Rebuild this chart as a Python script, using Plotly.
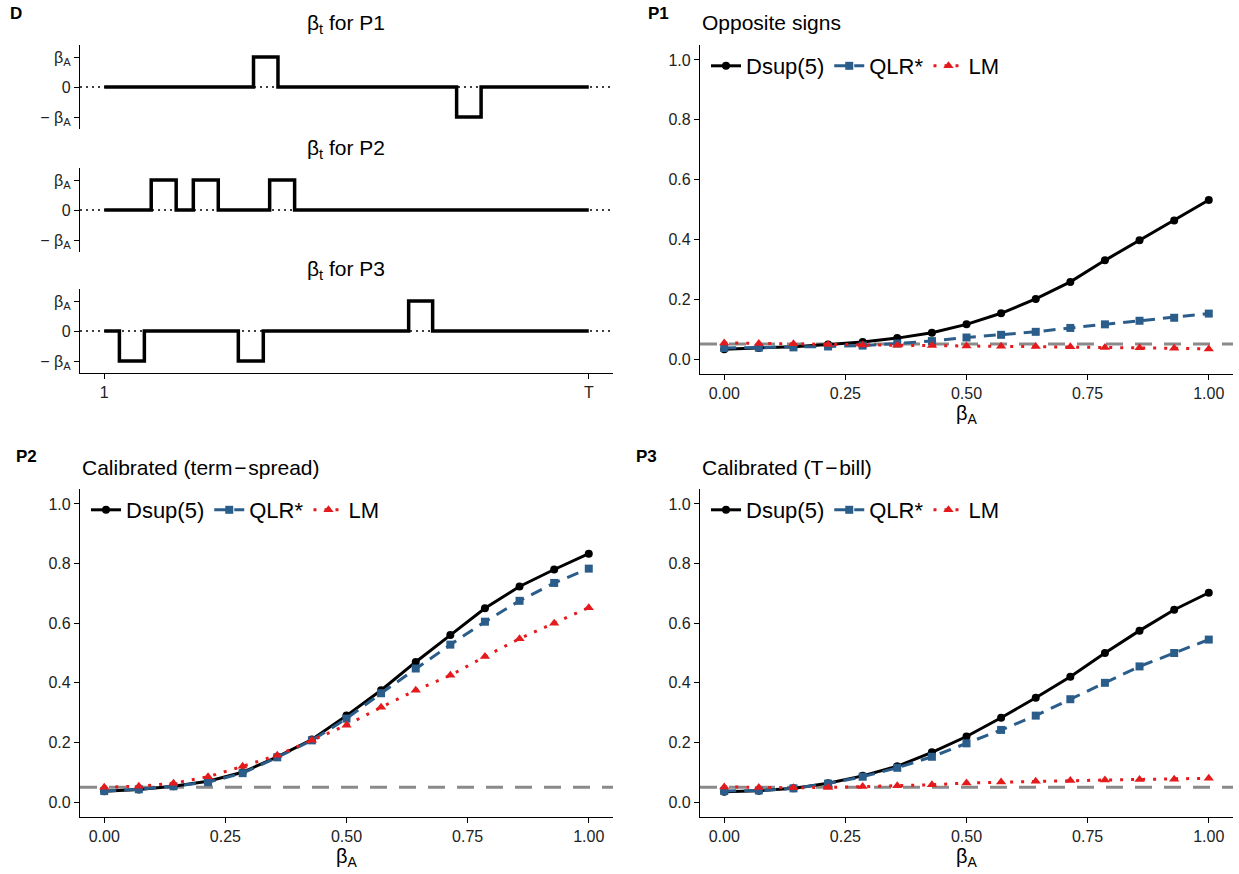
import plotly.graph_objects as go

W, H = 1239, 874
FONT = "Liberation Sans, Arial, sans-serif"

# ---------------- data ----------------
beta_grid = [0.0, 0.0714, 0.1429, 0.2143, 0.2857, 0.3571, 0.4286, 0.5,
             0.5714, 0.6429, 0.7143, 0.7857, 0.8571, 0.9286, 1.0]

p1_dsup = [0.033, 0.037, 0.041, 0.049, 0.057, 0.070, 0.088, 0.116, 0.153, 0.201, 0.258, 0.330, 0.397, 0.463, 0.532]
p1_qlr = [0.037, 0.038, 0.039, 0.042, 0.045, 0.052, 0.060, 0.072, 0.081, 0.091, 0.104, 0.116, 0.128, 0.138, 0.152]
p1_lm = [0.054, 0.052, 0.051, 0.049, 0.047, 0.046, 0.045, 0.044, 0.043, 0.042, 0.041, 0.039, 0.038, 0.036, 0.034]

p2_dsup = [0.036, 0.042, 0.053, 0.070, 0.100, 0.152, 0.210, 0.290, 0.375, 0.470, 0.560, 0.650, 0.723, 0.780, 0.833]
p2_qlr = [0.037, 0.043, 0.053, 0.067, 0.097, 0.150, 0.207, 0.280, 0.365, 0.448, 0.528, 0.605, 0.675, 0.735, 0.783]
p2_lm = [0.050, 0.053, 0.063, 0.085, 0.120, 0.157, 0.207, 0.258, 0.318, 0.375, 0.425, 0.488, 0.548, 0.600, 0.652]

p3_dsup = [0.035, 0.038, 0.046, 0.063, 0.088, 0.120, 0.167, 0.220, 0.283, 0.350, 0.420, 0.500, 0.575, 0.645, 0.702]
p3_qlr = [0.037, 0.039, 0.046, 0.062, 0.085, 0.115, 0.152, 0.197, 0.242, 0.290, 0.345, 0.400, 0.455, 0.500, 0.545]
p3_lm = [0.051, 0.049, 0.048, 0.049, 0.052, 0.055, 0.058, 0.064, 0.067, 0.070, 0.072, 0.074, 0.076, 0.077, 0.080]

nominal_level = 0.05

# step patterns for beta_t (time index 1..T, T = 100)
d1_t = [1, 31.5, 36.5, 73, 78, 100]
d1_b = [0, 1, 0, -1, 0, 0]
d2_t = [1, 10.6, 15.7, 19.2, 24.3, 34.8, 39.9, 100]
d2_b = [0, 1, 0, 1, 0, 1, 0, 0]
d3_t = [1, 4.1, 9.2, 28.4, 33.5, 63.2, 68.1, 100]
d3_b = [0, -1, 0, -1, 0, 1, 0, 0]
T_END = 100

series_names = ["Dsup(5)", "QLR*", "LM"]
beta_x_ticks = [0.0, 0.25, 0.5, 0.75, 1.0]
beta_x_labels = ["0.00", "0.25", "0.50", "0.75", "1.00"]
power_y_ticks = [0.0, 0.2, 0.4, 0.6, 0.8, 1.0]
power_y_labels = ["0.0", "0.2", "0.4", "0.6", "0.8", "1.0"]
d_y_ticks = [1, 0, -1]
d_y_labels = ["β<sub>A</sub>", "0", "− β<sub>A</sub>"]

# ---------------- styles ----------------
colors = ["#000000", "#2b5d8b", "#e41a1c"]
dashes = ["solid", "12px,8px", "3px,8px"]
symbols = ["circle", "square", "triangle-up"]
msizes = [8, 8, 9]


def xdom(a, b):
    return [a / W, b / W]


def ydom(a, b):
    return [1 - b / H, 1 - a / H]


fig = go.Figure()

# panel D step functions
for i, (tt, bb) in enumerate([(d1_t, d1_b), (d2_t, d2_b), (d3_t, d3_b)]):
    ax = "" if i == 0 else str(i + 1)
    fig.add_trace(go.Scatter(x=tt, y=bb, mode="lines", line=dict(color="black", width=3.5, shape="hv"),
                             xaxis="x" + ax, yaxis="y" + ax, showlegend=False, hoverinfo="skip"))

power_sets = [(p1_dsup, p1_qlr, p1_lm), (p2_dsup, p2_qlr, p2_lm), (p3_dsup, p3_qlr, p3_lm)]
legend_ids = ["legend", "legend2", "legend3"]
for k, vals in enumerate(power_sets):
    ax = str(k + 4)
    for j, v in enumerate(vals):
        fig.add_trace(go.Scatter(
            x=beta_grid, y=v, mode="lines+markers", name=series_names[j],
            line=dict(color=colors[j], width=3, dash=dashes[j]),
            marker=dict(symbol=symbols[j], size=msizes[j], color=colors[j]),
            xaxis="x" + ax, yaxis="y" + ax, legend=legend_ids[k], showlegend=True))

tickfont = dict(family=FONT, size=16, color="#222222")
axis_common = dict(showgrid=False, zeroline=False, showline=True, linecolor="black", linewidth=1.2,
                   ticks="outside", ticklen=5, tickcolor="black", tickwidth=1.2, tickfont=tickfont)

# panel pixel boxes
d_x = (80, 613)
d_boxes = [(45, 129), (168, 252), (289, 373)]
p_boxes = {4: ((700, 1233), (45, 374)), 5: ((80, 613), (489, 817)), 6: ((700, 1233), (489, 817))}

layout = dict(width=W, height=H, margin=dict(l=0, r=0, t=0, b=0),
              paper_bgcolor="white", plot_bgcolor="white", font=dict(family=FONT, color="black"))

x_range_d = [1 - 0.05 * (T_END - 1), T_END + 0.05 * (T_END - 1)]
for i, (y0, y1) in enumerate(d_boxes):
    n = "" if i == 0 else str(i + 1)
    xa = dict(axis_common, domain=xdom(*d_x), range=x_range_d, anchor="y" + n)
    if i < 2:
        xa.update(showline=False, ticks="", showticklabels=False)
    else:
        xa.update(tickvals=[1, T_END], ticktext=["1", "T"])
    ya = dict(axis_common, domain=ydom(y0, y1), range=[-1.4, 1.4], anchor="x" + n,
              tickvals=d_y_ticks, ticktext=d_y_labels)
    layout["xaxis" + n] = xa
    layout["yaxis" + n] = ya

for k, ((x0, x1), (y0, y1)) in p_boxes.items():
    n = str(k)
    layout["xaxis" + n] = dict(axis_common, domain=xdom(x0, x1), range=[-0.05, 1.05], anchor="y" + n,
                               tickvals=beta_x_ticks, ticktext=beta_x_labels,
                               title=dict(text="β<sub>A</sub>", font=dict(family=FONT, size=20, color="black"),
                                          standoff=4))
    layout["yaxis" + n] = dict(axis_common, domain=ydom(y0, y1), range=[-0.05, 1.05], anchor="x" + n,
                               tickvals=power_y_ticks, ticktext=power_y_labels)

# legends
leg_pos = {"legend": (706, 45), "legend2": (86, 489), "legend3": (706, 489)}
for lid, (px, py) in leg_pos.items():
    layout[lid] = dict(x=px / W, y=1 - py / H, xanchor="left", yanchor="top", orientation="h",
                       bgcolor="rgba(0,0,0,0)", font=dict(family=FONT, size=22, color="black"),
                       itemwidth=30, tracegroupgap=0)

fig.update_layout(**layout)

shapes = []
for n in ["", "2", "3"]:
    shapes.append(dict(type="line", xref=("x" + n + " domain"), yref="y" + n, x0=0, x1=1, y0=0, y1=0,
                       line=dict(color="black", width=1.3, dash="2px,4px"), layer="below"))
for k in ["4", "5", "6"]:
    shapes.append(dict(type="line", xref="x" + k + " domain", yref="y" + k, x0=0, x1=1,
                       y0=nominal_level, y1=nominal_level,
                       line=dict(color="#8a8a8a", width=3, dash="17px,12px"), layer="below"))
fig.update_layout(shapes=shapes)

ann = []
def add_text(text, px, py, size, xanchor="left", bold=False):
    t = "<b>" + text + "</b>" if bold else text
    ann.append(dict(text=t, x=px / W, y=1 - py / H, xref="paper", yref="paper", showarrow=False,
                    xanchor=xanchor, yanchor="middle", font=dict(family=FONT, size=size, color="black")))

add_text("D", 8, 13, 17, bold=True)
add_text("P1", 646, 13, 17, bold=True)
add_text("P2", 14, 456, 17, bold=True)
add_text("P3", 634, 456, 17, bold=True)
add_text("β<sub>t</sub> for P1", 346, 24, 21, xanchor="center")
add_text("β<sub>t</sub> for P2", 346, 149, 21, xanchor="center")
add_text("β<sub>t</sub> for P3", 346, 270, 21, xanchor="center")
add_text("Opposite signs", 700, 23, 21)
add_text("Calibrated (term\u200a−\u200aspread)", 80, 467, 21)
add_text("Calibrated (T\u200a−\u200abill)", 700, 467, 21)
fig.update_layout(annotations=ann)

fig.write_html("out.html")
